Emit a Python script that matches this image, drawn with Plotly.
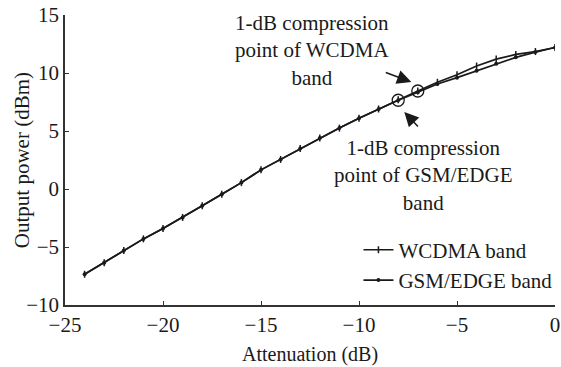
import plotly.graph_objects as go

attenuation = [-24, -23, -22, -21, -20, -19, -18, -17, -16, -15, -14, -13, -12,
               -11, -10, -9, -8, -7, -6, -5, -4, -3, -2, -1, 0]
wcdma = [-7.35, -6.35, -5.3, -4.3, -3.4, -2.45, -1.45, -0.45, 0.55, 1.65, 2.55, 3.5, 4.4,
         5.25, 6.1, 6.9, 7.7, 8.45, 9.2, 9.85, 10.6, 11.2, 11.6, 11.85, 12.2]
gsm = [-7.35, -6.35, -5.3, -4.3, -3.4, -2.45, -1.45, -0.45, 0.55, 1.65, 2.55, 3.5, 4.4,
       5.25, 6.1, 6.9, 7.65, 8.35, 9.05, 9.6, 10.2, 10.8, 11.35, 11.8, 12.2]
p1db_x = [-7, -8]
p1db_y = [8.45, 7.65]

FONT = "Liberation Serif"
FS = 21
INK = "#1a1a1a"

fig = go.Figure()
fig.add_trace(go.Scatter(x=attenuation, y=wcdma, mode="lines+markers", name="WCDMA band",
                         line=dict(color=INK, width=1.7),
                         marker=dict(symbol="line-ns-open", size=5, line=dict(color=INK, width=1.5))))
fig.add_trace(go.Scatter(x=attenuation, y=gsm, mode="lines+markers", name="GSM/EDGE band",
                         line=dict(color=INK, width=1.7),
                         marker=dict(symbol="circle", size=4, color=INK)))
fig.add_trace(go.Scatter(x=p1db_x, y=p1db_y, mode="markers", showlegend=False,
                         marker=dict(symbol="circle-open", size=12, color=INK, line=dict(width=1.3))))

fig.add_annotation(x=0.504, y=0.876, xref="paper", yref="paper", xanchor="center", yanchor="middle",
                   text="1-dB compression<br>point of WCDMA<br>band", showarrow=False,
                   font=dict(family=FONT, size=FS, color=INK), align="center")
fig.add_annotation(x=0.732, y=0.445, xref="paper", yref="paper", xanchor="center", yanchor="middle",
                   text="1-dB compression<br>point of GSM/EDGE<br>band", showarrow=False,
                   font=dict(family=FONT, size=FS, color=INK), align="center")
fig.add_annotation(x=-7.33, y=9.22, ax=-8.71, ay=10.09, xref="x", yref="y", axref="x", ayref="y",
                   text="", showarrow=True, arrowhead=2, arrowsize=1.9, arrowwidth=1.5, arrowcolor=INK)
fig.add_annotation(x=-7.69, y=6.64, ax=-6.92, ay=5.26, xref="x", yref="y", axref="x", ayref="y",
                   text="", showarrow=True, arrowhead=2, arrowsize=1.9, arrowwidth=1.5, arrowcolor=INK)

# axis titles
fig.add_annotation(x=0.5, y=-0.17, xref="paper", yref="paper", xanchor="center", yanchor="middle",
                   text="Attenuation (dB)", showarrow=False, font=dict(family=FONT, size=20, color=INK))
fig.add_annotation(x=-0.0874, y=0.5, xref="paper", yref="paper", xanchor="center", yanchor="middle",
                   text="Output power (dBm)", textangle=-90, showarrow=False,
                   font=dict(family=FONT, size=FS, color=INK))

axis_common = dict(showgrid=False, zeroline=False, showline=True, linecolor="#333", linewidth=1.5,
                   ticks="inside", ticklen=4, tickcolor="#333", mirror=False,
                   tickfont=dict(family=FONT, size=FS, color=INK), automargin=False)
fig.update_xaxes(range=[-25, 0], dtick=5, ticklabeloverflow="allow", **axis_common)
fig.update_yaxes(range=[-10, 15], dtick=5, ticklabeloverflow="allow", **axis_common)

fig.update_layout(width=561, height=367, margin=dict(l=65, r=4, t=15, b=62),
                  paper_bgcolor="white", plot_bgcolor="white",
                  font=dict(family=FONT, size=FS, color=INK),
                  legend=dict(x=1.005, y=0.26, xanchor="right", yanchor="top",
                              bgcolor="rgba(0,0,0,0)", font=dict(family=FONT, size=FS, color=INK),
                              itemwidth=30, tracegroupgap=0))
fig.write_html("out.html")
